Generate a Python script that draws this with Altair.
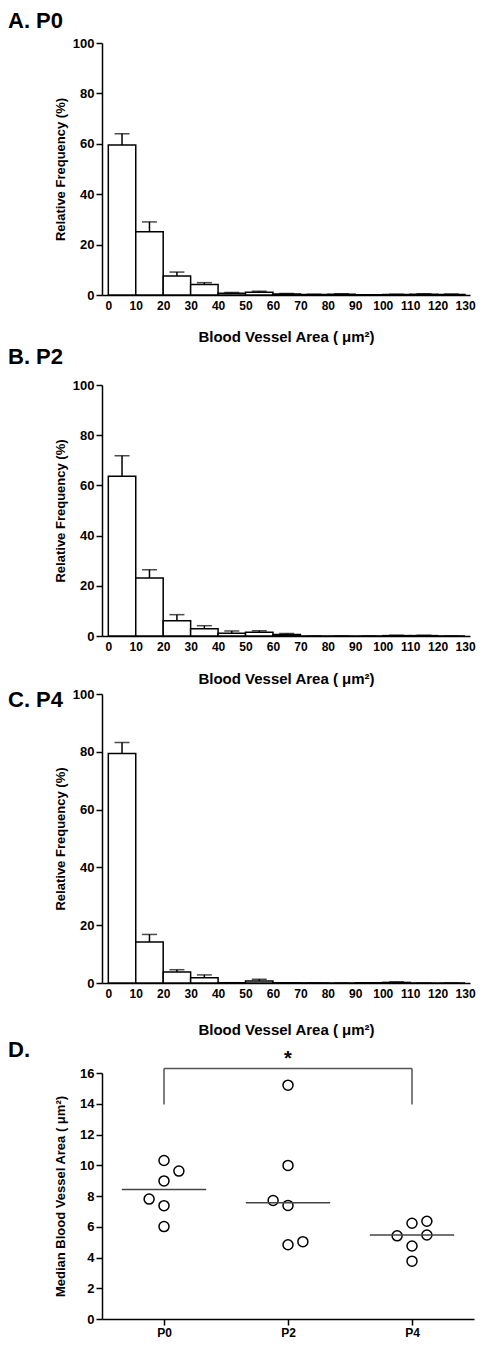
import altair as alt
import pandas as pd

FONT = "Liberation Sans"

# ---------- histogram data (bins of 10 µm², 0..130) ----------
bin_start = [0, 10, 20, 30, 40, 50, 60, 70, 80, 90, 100, 110, 120]
x_tick_values = [0, 10, 20, 30, 40, 50, 60, 70, 80, 90, 100, 110, 120, 130]
y_tick_values = [0, 20, 40, 60, 80, 100]

p0_mean = [59.5, 25.1, 7.5, 4.2, 0.7, 1.1, 0.4, 0.2, 0.3, 0.1, 0.2, 0.3, 0.2]
p0_upper = [64.0, 29.0, 9.1, 4.9, 1.0, 1.5, 0.6, 0.3, 0.5, 0.1, 0.3, 0.5, 0.4]

p2_mean = [63.6, 23.1, 6.1, 2.9, 1.1, 1.5, 0.6, 0.0, 0.0, 0.0, 0.15, 0.15, 0.0]
p2_upper = [71.8, 26.4, 8.5, 4.1, 2.0, 2.1, 1.0, 0.0, 0.0, 0.0, 0.3, 0.3, 0.0]

p4_mean = [79.4, 14.2, 3.8, 1.8, 0.1, 0.7, 0.05, 0.05, 0.0, 0.05, 0.2, 0.0, 0.0]
p4_upper = [83.2, 16.8, 4.6, 2.8, 0.1, 1.3, 0.05, 0.05, 0.0, 0.05, 0.4, 0.0, 0.0]

# ---------- panel D data ----------
groups = ["P0", "P2", "P4"]
d_group = [0, 0, 0, 0, 0, 0, 1, 1, 1, 1, 1, 1, 2, 2, 2, 2, 2, 2]
d_jitter = [0, 0.12, 0, -0.12, 0, 0, 0, 0, -0.12, 0, 0, 0.12, 0, 0.12, -0.12, 0.12, 0, 0]
d_value = [10.31, 9.62, 8.98, 7.80, 7.37, 6.01,
           15.21, 9.99, 7.71, 7.39, 4.83, 5.03,
           6.23, 6.36, 5.41, 5.46, 4.75, 3.76]
d_median = [8.42, 7.56, 5.46]
d_y_ticks = [0, 2, 4, 6, 8, 10, 12, 14, 16]

X_TITLE = "Blood Vessel Area ( μm²)"
Y_TITLE = "Relative Frequency  (%)"
D_Y_TITLE = "Median Blood Vessel Area ( μm²)"

HIST_W = 368
LBL_X = -94


def hist_panel(label, means, uppers, height, label_y, title_pad):
    df = pd.DataFrame({"start": bin_start, "mean": means, "upper": uppers})
    base = alt.Chart(df).transform_calculate(
        end="datum.start + 10", center="datum.start + 5", zero="0")
    xs = alt.Scale(domain=[-2.3, 131.8], nice=False, zero=False)
    ys = alt.Scale(domain=[0, 100], nice=False)
    xax = alt.Axis(values=x_tick_values, title=X_TITLE, ticks=False,
                   labelPadding=5, titlePadding=title_pad, labelFlush=False,
                   labelOverlap=False, titleFontSize=15)
    yax = alt.Axis(values=y_tick_values, title=Y_TITLE, tickSize=6,
                   titlePadding=5, labelOverlap=False, labelFontSize=13)

    def X(f):
        return alt.X(f, scale=xs, axis=xax, title=X_TITLE)

    def Y(f):
        return alt.Y(f, scale=ys, axis=yax, title=Y_TITLE)

    bars = base.mark_rect(fill="white", stroke="black", strokeWidth=1.5).encode(
        x=X("start:Q"), x2="end:Q", y=Y("mean:Q"), y2="zero:Q")
    err = base.mark_rule(color="black", strokeWidth=1.5).encode(
        x=X("center:Q"), y=Y("mean:Q"), y2="upper:Q")
    cap = base.mark_tick(orient="horizontal", size=15, thickness=1.5, color="black").encode(
        x=X("center:Q"), y=Y("upper:Q"))
    lbl = alt.Chart(pd.DataFrame({"t": [label]})).mark_text(
        align="left", baseline="middle", fontSize=22, fontWeight="bold", font=FONT, color="black"
    ).encode(x=alt.value(LBL_X), y=alt.value(label_y), text="t:N")
    return alt.layer(bars, err, cap, lbl).properties(width=HIST_W, height=height)


pa = hist_panel("A. P0", p0_mean, p0_upper, 252, -22, 18)
pb = hist_panel("B. P2", p2_mean, p2_upper, 251, -28, 19)
pc = hist_panel("C. P4", p4_mean, p4_upper, 289, 6, 23)

# ---------- panel D ----------
dd = pd.DataFrame({"g": d_group, "j": d_jitter, "v": d_value})
md = pd.DataFrame({"g": [0, 1, 2], "m": d_median})
label_expr = "[" + ",".join(f"'{g}'" for g in groups) + "][datum.value]"

dxs = alt.Scale(domain=[-0.5, 2.5], nice=False, zero=False)
dys = alt.Scale(domain=[0, 16], nice=False)
dxax = alt.Axis(values=[0, 1, 2], labelExpr=label_expr, title=None, tickSize=6, labelPadding=2)
dyax = alt.Axis(values=d_y_ticks, title=D_Y_TITLE, tickSize=6, titlePadding=12,
                labelOverlap=False, labelFontSize=13)


def DX(f):
    return alt.X(f, scale=dxs, axis=dxax, title=None)


def DY(f):
    return alt.Y(f, scale=dys, axis=dyax, title=D_Y_TITLE)


pts = alt.Chart(dd).transform_calculate(xp="datum.g + datum.j").mark_point(
    shape="circle", filled=False, size=100, stroke="black", strokeWidth=1.5, opacity=1
).encode(x=DX("xp:Q"), y=DY("v:Q"))
med = alt.Chart(md).transform_calculate(
    a="datum.g - 0.34", b="datum.g + 0.34"
).mark_rule(color="#444444", strokeWidth=1.5).encode(x=DX("a:Q"), x2="b:Q", y=DY("m:Q"))

br = pd.DataFrame({"x1": [0, 0, 2], "x2": [0, 2, 2], "y1": [13.95, 16.3, 13.95], "y2": [16.3, 16.3, 16.3]})
bracket = alt.Chart(br).mark_rule(color="#555555", strokeWidth=1.5).encode(
    x=DX("x1:Q"), x2="x2:Q", y=DY("y1:Q"), y2="y2:Q")
star = alt.Chart(pd.DataFrame({"x": [1], "y": [17.1], "t": ["*"]})).mark_text(
    fontSize=20, fontWeight="bold", font=FONT, color="black", baseline="middle", dy=3
).encode(x=DX("x:Q"), y=DY("y:Q"), text="t:N")
dlbl = alt.Chart(pd.DataFrame({"t": ["D."]})).mark_text(
    align="left", baseline="middle", fontSize=22, fontWeight="bold", font=FONT, color="black"
).encode(x=alt.value(LBL_X), y=alt.value(-23), text="t:N")

pd_panel = alt.layer(pts, med, bracket, star, dlbl).properties(width=372, height=246)

chart = alt.vconcat(pa, pb, pc, pd_panel, spacing=2).properties(
    padding={"left": 0, "top": 2, "right": 0, "bottom": 0}
).configure_view(stroke=None).configure_axis(
    grid=False, domainColor="black", domainWidth=1.5, tickColor="black", tickWidth=1.5,
    labelFont=FONT, labelFontWeight="bold", labelFontSize=12, labelColor="black",
    titleFont=FONT, titleFontWeight="bold", titleFontSize=13, titleColor="black",
)

chart.save("out.html", embed_options={"renderer": "svg", "actions": False})
